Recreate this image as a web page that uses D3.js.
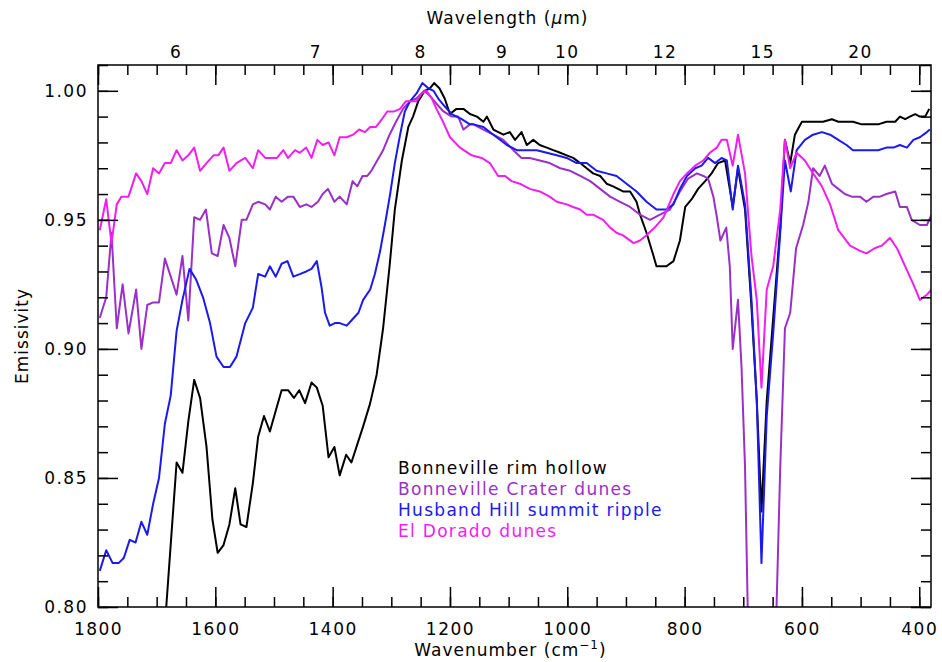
<!DOCTYPE html>
<html><head><meta charset="utf-8">
<script src="https://cdn.jsdelivr.net/npm/d3@7"></script>
<style>
body{margin:0;background:#fff}
svg{display:block}
text{font-family:"DejaVu Sans",sans-serif}
</style>
</head><body>
<svg id="chart" width="942" height="662"></svg>
<script>
// ---------- data ----------
const seriesNames = ["Bonneville rim hollow","Bonneville Crater dunes","Husband Hill summit ripple","El Dorado dunes"];
const seriesColors = ["#000000","#9a30c8","#1a1aee","#f01ef0"];

const xMajorTicks = [1800,1600,1400,1200,1000,800,600,400];
const xMinorTicks = d3.range(1800, 370, -50);
const yMajorTicks = [0.80,0.85,0.90,0.95,1.00];
const yMinorTicks = d3.range(80, 102, 1).map(v => v/100);
const wavelengthLabels = [6,7,8,9,10,12,15,20];

// [wavenumber cm^-1, emissivity]
const rimHollow = [
[1690,0.780],[1666,0.856],[1656,0.852],[1646,0.872],[1636,0.888],[1626,0.881],[1615,0.862],[1605,0.834],
[1596,0.821],[1586,0.824],[1576,0.832],[1566,0.846],[1557,0.832],[1547,0.831],[1536,0.848],[1527,0.866],
[1517,0.874],[1507,0.868],[1497,0.876],[1487,0.884],[1476,0.884],[1466,0.881],[1457,0.884],[1447,0.879],
[1436,0.887],[1427,0.885],[1417,0.878],[1407,0.858],[1397,0.862],[1388,0.851],[1377,0.859],[1368,0.856],
[1358,0.863],[1348,0.870],[1336,0.879],[1325,0.890],[1314,0.908],[1303,0.932],[1294,0.954],[1282,0.973],
[1271,0.986],[1263,0.990],[1254,0.996],[1243,1.000],[1234,1.001],[1227,1.003],[1218,1.001],[1209,0.997],
[1200,0.991],[1189,0.993],[1177,0.993],[1166,0.991],[1154,0.990],[1143,0.988],[1137,0.990],[1126,0.985],
[1109,0.983],[1098,0.984],[1089,0.981],[1078,0.984],[1069,0.979],[1058,0.981],[1047,0.979],[1035,0.978],
[1024,0.977],[1012,0.976],[1001,0.975],[990,0.974],[978,0.972],[967,0.970],[956,0.968],[944,0.967],
[933,0.964],[922,0.963],[905,0.961],[893,0.961],[882,0.957],[876,0.952],[865,0.945],[853,0.936],
[848,0.932],[831,0.932],[819,0.934],[808,0.942],[799,0.955],[788,0.958],[777,0.962],[765,0.965],
[754,0.968],[743,0.972],[731,0.973],[718,0.955],[709,0.970],[697,0.954],[686,0.916],[677,0.880],
[669,0.837],[660,0.880],[649,0.912],[637,0.947],[629,0.981],[620,0.972],[612,0.983],[605,0.986],
[600,0.988],[586,0.988],[575,0.988],[564,0.988],[549,0.989],[538,0.988],[524,0.988],[513,0.988],
[498,0.987],[484,0.987],[470,0.987],[456,0.988],[441,0.988],[433,0.990],[424,0.989],[416,0.990],
[407,0.991],[399,0.990],[390,0.990],[383,0.993]
];
const craterDunes = [
[1797,0.912],[1786,0.920],[1777,0.945],[1768,0.908],[1758,0.925],[1748,0.906],[1735,0.923],[1726,0.900],
[1716,0.917],[1706,0.918],[1696,0.918],[1686,0.935],[1676,0.928],[1666,0.921],[1656,0.936],[1646,0.911],
[1636,0.951],[1626,0.950],[1616,0.954],[1606,0.937],[1596,0.936],[1586,0.948],[1576,0.943],[1566,0.932],
[1555,0.950],[1547,0.950],[1536,0.956],[1527,0.957],[1515,0.956],[1507,0.954],[1497,0.959],[1487,0.957],
[1476,0.959],[1467,0.959],[1456,0.955],[1445,0.956],[1436,0.955],[1425,0.957],[1417,0.960],[1408,0.962],
[1397,0.957],[1388,0.959],[1376,0.956],[1366,0.965],[1358,0.963],[1349,0.967],[1341,0.967],[1334,0.969],
[1324,0.973],[1314,0.977],[1303,0.983],[1292,0.988],[1280,0.993],[1268,0.996],[1257,0.997],[1244,1.000],
[1234,0.998],[1223,0.995],[1211,0.992],[1197,0.990],[1186,0.990],[1177,0.985],[1166,0.987],[1160,0.987],
[1143,0.985],[1126,0.983],[1109,0.981],[1092,0.977],[1078,0.974],[1064,0.974],[1047,0.973],[1030,0.972],
[1012,0.970],[995,0.969],[978,0.967],[961,0.965],[944,0.962],[927,0.959],[910,0.957],[893,0.955],
[876,0.952],[859,0.950],[842,0.952],[825,0.954],[808,0.961],[794,0.966],[779,0.968],[768,0.967],
[760,0.966],[751,0.959],[745,0.951],[739,0.942],[729,0.947],[723,0.932],[718,0.900],[709,0.919],
[703,0.893],[697,0.854],[690,0.770],[668,0.720],[648,0.760],[637,0.854],[629,0.908],[620,0.914],
[610,0.939],[598,0.948],[589,0.957],[581,0.970],[570,0.967],[561,0.971],[549,0.964],[538,0.962],
[527,0.960],[515,0.959],[501,0.959],[490,0.957],[478,0.959],[467,0.959],[456,0.960],[441,0.961],
[433,0.955],[421,0.955],[413,0.950],[399,0.948],[387,0.948],[379,0.952]
];
const summitRipple = [
[1797,0.814],[1786,0.822],[1775,0.817],[1765,0.817],[1756,0.819],[1746,0.826],[1736,0.825],[1726,0.833],
[1716,0.828],[1706,0.840],[1696,0.850],[1686,0.871],[1676,0.882],[1666,0.907],[1656,0.919],[1644,0.931],
[1633,0.927],[1621,0.920],[1609,0.910],[1598,0.897],[1586,0.893],[1575,0.893],[1564,0.897],[1549,0.910],
[1536,0.916],[1527,0.929],[1515,0.928],[1507,0.932],[1497,0.928],[1487,0.933],[1477,0.934],[1467,0.928],
[1456,0.929],[1445,0.930],[1436,0.931],[1427,0.934],[1419,0.924],[1413,0.914],[1405,0.909],[1396,0.910],
[1388,0.910],[1376,0.909],[1368,0.911],[1356,0.914],[1348,0.919],[1336,0.923],[1328,0.929],[1319,0.938],
[1311,0.948],[1302,0.960],[1294,0.972],[1285,0.983],[1277,0.992],[1268,0.996],[1257,0.999],[1247,1.003],
[1237,1.001],[1228,1.000],[1220,0.997],[1209,0.994],[1197,0.991],[1180,0.989],[1166,0.987],[1160,0.987],
[1143,0.986],[1126,0.983],[1103,0.979],[1086,0.977],[1069,0.977],[1052,0.977],[1035,0.976],[1018,0.975],
[1001,0.974],[984,0.972],[967,0.972],[950,0.969],[933,0.968],[916,0.967],[899,0.964],[882,0.961],
[865,0.957],[848,0.954],[831,0.954],[819,0.956],[808,0.962],[796,0.967],[782,0.970],[771,0.971],
[760,0.974],[748,0.972],[737,0.974],[728,0.973],[718,0.954],[709,0.971],[697,0.956],[686,0.919],
[677,0.880],[669,0.817],[660,0.874],[649,0.906],[637,0.945],[629,0.973],[619,0.961],[609,0.977],
[595,0.981],[581,0.983],[566,0.984],[552,0.983],[538,0.981],[524,0.979],[513,0.977],[498,0.977],
[484,0.977],[470,0.977],[456,0.978],[444,0.978],[433,0.979],[421,0.978],[410,0.981],[399,0.982],
[387,0.984],[382,0.985]
];
const elDorado = [
[1797,0.946],[1786,0.958],[1777,0.941],[1768,0.956],[1760,0.959],[1748,0.959],[1735,0.968],[1726,0.965],
[1716,0.960],[1706,0.970],[1696,0.968],[1686,0.972],[1676,0.972],[1666,0.977],[1656,0.973],[1646,0.975],
[1636,0.978],[1626,0.969],[1615,0.972],[1603,0.975],[1595,0.975],[1586,0.978],[1576,0.969],[1564,0.972],
[1549,0.974],[1536,0.970],[1527,0.977],[1515,0.974],[1501,0.974],[1495,0.974],[1484,0.977],[1476,0.974],
[1464,0.977],[1456,0.976],[1445,0.978],[1436,0.974],[1426,0.981],[1417,0.979],[1407,0.980],[1397,0.975],
[1388,0.982],[1376,0.982],[1365,0.983],[1355,0.985],[1345,0.984],[1336,0.986],[1326,0.986],[1316,0.989],
[1307,0.992],[1295,0.992],[1285,0.993],[1275,0.996],[1265,0.996],[1257,0.996],[1248,0.999],[1240,1.000],
[1231,0.997],[1223,0.993],[1214,0.989],[1200,0.982],[1183,0.978],[1163,0.975],[1146,0.974],[1132,0.972],
[1118,0.967],[1106,0.967],[1095,0.965],[1081,0.964],[1064,0.962],[1047,0.961],[1030,0.959],[1018,0.957],
[1001,0.956],[990,0.955],[978,0.954],[967,0.952],[956,0.952],[939,0.950],[927,0.947],[916,0.945],
[905,0.944],[887,0.941],[876,0.942],[865,0.944],[851,0.947],[836,0.951],[819,0.960],[808,0.965],
[796,0.968],[782,0.971],[768,0.973],[757,0.976],[745,0.978],[737,0.981],[728,0.981],[718,0.971],
[709,0.983],[697,0.968],[686,0.936],[677,0.919],[669,0.885],[660,0.923],[649,0.932],[637,0.954],
[629,0.981],[620,0.970],[609,0.976],[595,0.973],[581,0.968],[566,0.963],[552,0.956],[538,0.946],
[518,0.940],[501,0.938],[490,0.937],[476,0.939],[464,0.940],[450,0.943],[438,0.939],[424,0.932],
[410,0.925],[399,0.919],[387,0.921],[379,0.923]
];
const allSeries = [rimHollow, craterDunes, summitRipple, elDorado];

// ---------- layout ----------
const W = 942, H = 662;
const L = 98, R = 931, T = 65, B = 607;
const svg = d3.select("#chart");
const x = d3.scaleLinear().domain([1800, 380]).range([L, R]);
const y = d3.scaleLinear().domain([0.80, 1.01]).range([B, T]);

const fontSize = 17;

svg.append("defs").append("clipPath").attr("id","plotclip")
  .append("rect").attr("x",L).attr("y",T).attr("width",R-L).attr("height",B-T);

// curves
const line = d3.line().x(d => x(d[0])).y(d => y(d[1]));
const curves = svg.append("g").attr("clip-path","url(#plotclip)");
allSeries.forEach((s,i) => {
  curves.append("path").datum(s).attr("d", line)
    .attr("fill","none").attr("stroke", seriesColors[i])
    .attr("stroke-width",2).attr("stroke-linejoin","round");
});

// axes helper
function styleAxis(g){
  g.select(".domain").remove();
  g.selectAll(".tick line").attr("stroke","#000").attr("stroke-width",1.5);
  g.selectAll("text").attr("fill","#000").attr("font-size",fontSize)
    .attr("font-family",'"DejaVu Sans",sans-serif').attr("letter-spacing","1.5px");
}

// bottom
svg.append("g").attr("transform",`translate(0,${B})`)
  .call(d3.axisBottom(x).tickValues(xMinorTicks).tickSize(-10).tickFormat(""))
  .call(styleAxis);
svg.append("g").attr("transform",`translate(0,${B})`)
  .call(d3.axisBottom(x).tickValues(xMajorTicks).tickSize(-20).tickPadding(16).tickFormat(d3.format("d")))
  .call(styleAxis);
// top (same ticks, wavelength labels)
svg.append("g").attr("transform",`translate(0,${T})`)
  .call(d3.axisTop(x).tickValues(xMinorTicks).tickSize(-10).tickFormat(""))
  .call(styleAxis);
svg.append("g").attr("transform",`translate(0,${T})`)
  .call(d3.axisTop(x).tickValues(xMajorTicks).tickSize(-20).tickFormat(""))
  .call(styleAxis);
svg.append("g").selectAll("text").data(wavelengthLabels).join("text")
  .attr("x", d => x(10000/d)).attr("y", T - 7)
  .attr("text-anchor","middle").attr("font-size",fontSize).attr("letter-spacing","1.5px")
  .text(d => d);
// left
svg.append("g").attr("transform",`translate(${L},0)`)
  .call(d3.axisLeft(y).tickValues(yMinorTicks).tickSize(-10).tickFormat(""))
  .call(styleAxis);
svg.append("g").attr("transform",`translate(${L},0)`)
  .call(d3.axisLeft(y).tickValues(yMajorTicks).tickSize(-20).tickPadding(10).tickFormat(d3.format(".2f")))
  .call(styleAxis);
// right
svg.append("g").attr("transform",`translate(${R},0)`)
  .call(d3.axisRight(y).tickValues(yMinorTicks).tickSize(-10).tickFormat(""))
  .call(styleAxis);
svg.append("g").attr("transform",`translate(${R},0)`)
  .call(d3.axisRight(y).tickValues(yMajorTicks).tickSize(-20).tickFormat(""))
  .call(styleAxis);

// frame
svg.append("rect").attr("x",L).attr("y",T).attr("width",R-L).attr("height",B-T)
  .attr("fill","none").attr("stroke","#000").attr("stroke-width",1.5);

// titles
const xt = svg.append("text").attr("x",(L+R)/2 - 4).attr("y",656).attr("text-anchor","middle")
  .attr("font-size",fontSize).attr("letter-spacing","1px");
xt.append("tspan").text("Wavenumber (cm");
xt.append("tspan").attr("dy",-7).attr("font-size",12).text("−1");
xt.append("tspan").attr("dy",7).text(")");

const tt = svg.append("text").attr("x",(L+R)/2 - 7).attr("y",24).attr("text-anchor","middle")
  .attr("font-size",fontSize).attr("letter-spacing","1px");
tt.append("tspan").text("Wavelength (");
tt.append("tspan").attr("font-style","italic").text("μ");
tt.append("tspan").text("m)");

svg.append("text").attr("transform",`translate(28,${(T+B)/2}) rotate(-90)`)
  .attr("text-anchor","middle").attr("font-size",fontSize).attr("letter-spacing","1px")
  .text("Emissivity");

// legend
const legend = svg.append("g");
seriesNames.forEach((n,i) => {
  legend.append("text").attr("x",398).attr("y",474 + i*21)
    .attr("font-size",fontSize).attr("letter-spacing","1.3px")
    .attr("fill",seriesColors[i]).text(n);
});
</script>
</body></html>
